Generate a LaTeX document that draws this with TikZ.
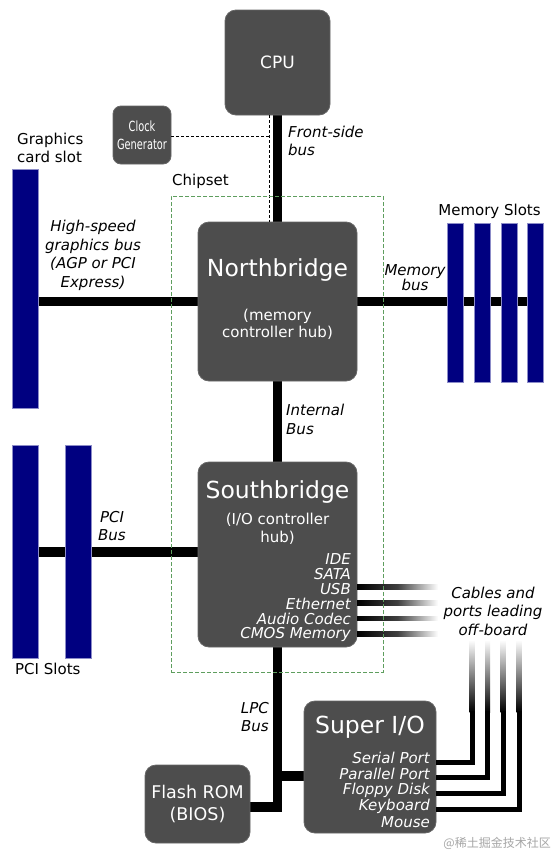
\documentclass[tikz,border=0pt]{standalone}
\usepackage{fontspec}
\usetikzlibrary{backgrounds}
\setmainfont{DejaVu Sans}
\newfontfamily\condfont{DejaVu Sans}[FakeStretch=0.7]
\newfontfamily\cjkfont{Noto Sans CJK SC}
\definecolor{chipgray}{HTML}{4D4D4D}
\definecolor{chipedge}{HTML}{666666}
\definecolor{slotblue}{HTML}{000080}
\definecolor{slotedge}{HTML}{8C8CC8}
\definecolor{chipgreen}{HTML}{5E9E5E}
\newcommand{\fs}[2]{\fontsize{#1}{#2}\selectfont}
\tikzset{
  chip/.style={draw=chipedge, line width=0.8pt, fill=chipgray, rounded corners=11pt,
    inner sep=0pt, text=white},
  chiptext/.style={text=white, inner sep=0pt, align=center},
  listtext/.style={text=white, inner sep=0pt, anchor=east, font=\fs{15}{15}\itshape},
  slot/.style={draw=slotedge, line width=0.5pt, fill=slotblue, inner sep=0pt},
  bus/.style={line width=9.5pt, black, line join=miter, line cap=butt},
  port/.style={line width=5pt, black, line join=miter, line cap=butt},
  buslabel/.style={inner sep=0pt, font=\fs{15}{18.5}\itshape, align=center},
  plain/.style={inner sep=0pt, font=\fs{15}{18}, align=left},
}
\begin{document}
\begin{tikzpicture}[x=1pt,y=-1pt]
\begin{scope}[on background layer]
\fill[white] (0,0) rectangle (555,855);
\end{scope}
\useasboundingbox (0,0) rectangle (555,855);

% ---------- boxes ----------
\node[chip, minimum width=105pt, minimum height=105pt, font=\fs{17}{20}] (cpu) at (277.5,62.5) {CPU};
\node[chip, rounded corners=8pt, minimum width=58pt, minimum height=58pt] (clk) at (142,135) {};
\node[chiptext, font=\condfont\fs{14}{18}] (clktxt) at (142,135.5) {Clock\\Generator};

\node[chip, minimum width=159pt, minimum height=159pt] (nb) at (277.5,301.5) {};
\node[chiptext, font=\fs{23.5}{26}] (nbtitle) at (277.5,270) {Northbridge};
\node[chiptext, font=\fs{15}{17}] (nbsub) at (277.5,324.5) {(memory\\controller hub)};

\node[chip, minimum width=159pt, minimum height=185pt] (sb) at (277.5,554.5) {};
\node[chiptext, font=\fs{23.5}{26}] (sbtitle) at (277.5,492) {Southbridge};
\node[chiptext, font=\fs{15}{18}] (sbsub) at (277.5,529) {(I/O controller\\hub)};

\node[chip, minimum width=105pt, minimum height=78pt] (flash) at (197.5,804) {};
\node[chiptext, font=\fs{17.5}{22}] (flashtxt) at (197.5,804) {Flash ROM\\(BIOS)};

\node[chip, minimum width=132pt, minimum height=132pt] (sio) at (370,767) {};
\node[chiptext, font=\fs{23.5}{26}] (siotitle) at (370,727) {Super I/O};

% ---------- slots ----------
\node[slot, minimum width=26.5pt, minimum height=239pt] (gfx) at (25,288.5) {};
\node[slot, minimum width=16pt, minimum height=159pt] (mem1) at (455,302.5) {};
\node[slot, minimum width=16pt, minimum height=159pt] (mem2) at (482,302.5) {};
\node[slot, minimum width=16pt, minimum height=159pt] (mem3) at (509,302.5) {};
\node[slot, minimum width=16pt, minimum height=159pt] (mem4) at (535,302.5) {};
\node[slot, minimum width=26.5pt, minimum height=213pt] (pci1) at (25,551.5) {};
\node[slot, minimum width=26.5pt, minimum height=213pt] (pci2) at (78,551.5) {};

% ---------- buses (behind slots and chips) ----------
\begin{scope}[on background layer]
\draw[bus] (cpu.south) -- (nb.north);
\draw[bus] (nb.south) -- (sb.north);
\coordinate (lpcturn) at (277.5,807);
\coordinate (lpcbranch) at (277.5,776);
\draw[bus] (sb.south) -- (lpcturn) -- (flash.east |- lpcturn);
\draw[bus] (lpcbranch) -- (sio.west |- lpcbranch);
\draw[bus] (gfx.center |- nb.west) -- (nb.west);
\draw[bus] (nb.east) -- (mem4.center |- nb.east);
\coordinate (pcibus) at (25,552);
\draw[bus] (pcibus) -- (sb.west |- pcibus);
\end{scope}

% ---------- clock dashed line ----------
\coordinate (clkjoin) at (269.5,136.5);
\draw[line width=1.1pt, dash pattern=on 3pt off 2pt] (clk.east |- clkjoin) -- (clkjoin);
\draw[line width=1.1pt, dash pattern=on 3pt off 2pt] (269.5,115) -- (269.5,222);

% ---------- southbridge off-board lines ----------
\foreach \y/\n in {587/a,603/b,618.5/c,634/d}{
  \coordinate (sbp\n) at (sb.east |- 0,\y);
  \shade[left color=black, right color=white, middle color=black!75]
     (357,\y-2.3) rectangle (438,\y+2.3);
}

% ---------- super I/O port lines ----------
\foreach \x/\y/\n in {472/762/a,487.5/777.5/b,503/793.5/c,519/809/d}{
  \shade[top color=white, bottom color=black] (\x-2.5,640) rectangle (\x+2.5,712);
  \coordinate (vt\n) at (\x,711);
  \coordinate (vc\n) at (\x,\y);
  \draw[port] (vt\n) -- (vc\n) -- (sio.east |- vc\n);
}

% ---------- chipset box ----------
\node[draw=chipgreen, line width=0.9pt, dash pattern=on 4pt off 2pt, inner sep=0pt,
      minimum width=212pt, minimum height=476pt] (chipset) at (277,434) {};

% ---------- lists ----------
\node[listtext] (ide) at (351,559) {IDE};
\node[listtext] (sata) at (351,574) {SATA};
\node[listtext] (usb) at (351,589) {USB};
\node[listtext] (eth) at (351,604) {Ethernet};
\node[listtext] (audio) at (351,619) {Audio Codec};
\node[listtext] (cmos) at (351,634) {CMOS Memory};

\node[listtext] (serial) at (430,758) {Serial Port};
\node[listtext] (parallel) at (430,774) {Parallel Port};
\node[listtext] (floppy) at (430,790) {Floppy Disk};
\node[listtext] (keyb) at (430,806) {Keyboard};
\node[listtext] (mouse) at (430,822) {Mouse};

% ---------- labels ----------
\node[plain, anchor=west] (gfxlab) at (17,148) {Graphics\\card slot};
\node[plain, anchor=west] (chiplab) at (172,181) {Chipset};
\node[plain, anchor=center] (memlab) at (489.5,211.5) {Memory Slots};
\node[plain, anchor=west] (pcilab) at (15,669) {PCI Slots};

\node[buslabel, align=left, anchor=west] (fsblab) at (288,141) {Front-side\\bus};
\node[buslabel] (hsblab) at (93,255.5) {High-speed\\graphics bus\\(AGP or PCI\\Express)};
\node[buslabel, font=\fs{15}{15.5}\itshape] (membuslab) at (415,277.5) {Memory\\bus};
\node[buslabel, align=left, anchor=west] (intlab) at (286,419.5) {Internal\\Bus};
\node[buslabel] (pcibuslab) at (112,526) {PCI\\Bus};
\node[buslabel, align=right, anchor=east] (lpclab) at (269,717) {LPC\\Bus};
\node[buslabel] (cablelab) at (493,611) {Cables and\\ports leading\\off-board};

\node[inner sep=0pt, anchor=east, text=black!35, font=\cjkfont\fs{12}{14}] (wm) at (551,843) {@稀土掘金技术社区};
\end{tikzpicture}
\end{document}
